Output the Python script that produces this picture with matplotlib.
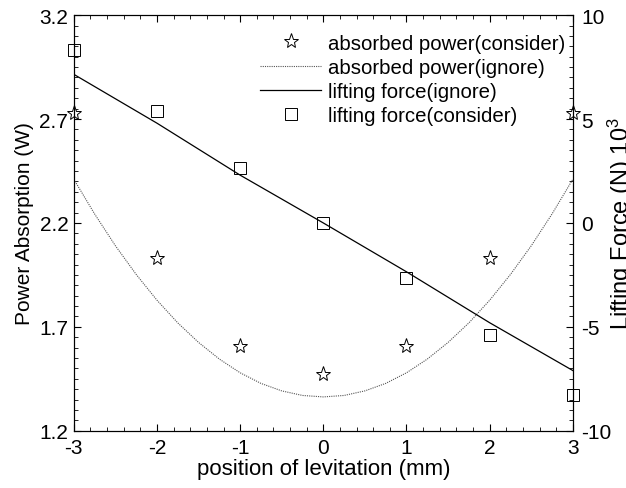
import numpy as np
import matplotlib
matplotlib.use("Agg")
import matplotlib.pyplot as plt
from matplotlib.ticker import MultipleLocator

plt.rcParams["font.family"] = ["Liberation Sans", "DejaVu Sans"]
plt.rcParams["mathtext.fontset"] = "custom"
plt.rcParams["mathtext.rm"] = "Liberation Sans"
plt.rcParams["axes.unicode_minus"] = False

# absorbed power, measured (stars, left axis)
pos = [-3, -2, -1, 0, 1, 2, 3]
power_consider = [2.73, 2.03, 1.61, 1.475, 1.61, 2.03, 2.73]

# absorbed power, ignore (dotted curve, left axis)
pos_fine = [-3, -2.75, -2.5, -2.25, -2, -1.75, -1.5, -1.25, -1, -0.75, -0.5, -0.25,
            0, 0.25, 0.5, 0.75, 1, 1.25, 1.5, 1.75, 2, 2.25, 2.5, 2.75, 3]
power_ignore = [2.41, 2.243, 2.09, 1.952, 1.828, 1.719, 1.625, 1.545, 1.479, 1.428,
                1.392, 1.37, 1.363, 1.37, 1.392, 1.428, 1.479, 1.545, 1.625, 1.719,
                1.828, 1.952, 2.09, 2.243, 2.41]

# lifting force (right axis, x10^3 N)
force_ignore = [7.15, 4.8, 2.3, 0.0, -2.35, -4.8, -7.1]
force_consider = [8.3, 5.4, 2.65, 0.0, -2.65, -5.4, -8.3]

fig = plt.figure(figsize=(6.26, 4.89), dpi=100)
ax = fig.add_axes([0.118, 0.117, 0.797, 0.850])
ax2 = ax.twinx()

h1, = ax.plot(pos, power_consider, linestyle="none", marker="*", ms=11,
              mfc="white", mec="black", mew=0.7, label="absorbed power(consider)")
h2, = ax.plot(pos_fine, power_ignore, color="#555555", lw=0.8,
              linestyle=(0, (1, 1)), label="absorbed power(ignore)")
h3, = ax2.plot(pos, force_ignore, color="black", lw=0.9,
               label="lifting force(ignore)")
h4, = ax2.plot(pos, force_consider, linestyle="none", marker="s", ms=9,
               mfc="none", mec="black", mew=0.7, label="lifting force(consider)")
for h in (h1, h4):
    h.set_clip_on(False)

ax.set_xlim(-3, 3)
ax.set_ylim(1.2, 3.2)
ax2.set_ylim(-10, 10)

ax.xaxis.set_major_locator(MultipleLocator(1))
ax.xaxis.set_minor_locator(MultipleLocator(0.2))
ax.yaxis.set_major_locator(MultipleLocator(0.5))
ax.yaxis.set_minor_locator(MultipleLocator(0.05))
ax2.yaxis.set_major_locator(MultipleLocator(5))
ax2.yaxis.set_minor_locator(MultipleLocator(0.5))

ax.set_yticks([1.2, 1.7, 2.2, 2.7, 3.2])
ax.set_yticklabels(["1.2", "1.7", "2.2", "2.7", "3.2"])

fs = 15
ax.tick_params(axis="x", which="both", direction="in", top=True, labelsize=fs, pad=5)
ax.tick_params(axis="y", which="both", direction="in", right=False, labelsize=fs, pad=4)
ax2.tick_params(axis="y", which="both", direction="in", labelsize=fs, pad=6)
for a in (ax, ax2):
    a.tick_params(which="major", length=5, width=0.8)
    a.tick_params(which="minor", length=3, width=0.6)

ax.set_xlabel("position of levitation (mm)", fontsize=16, labelpad=1)
ax.set_ylabel("Power Absorption (W)", fontsize=fs, labelpad=4)
ax2.set_ylabel("Lifting Force (N) $\\mathregular{10^3}$", fontsize=17,
               rotation=90, va="center")
ax2.yaxis.set_label_coords(1.096, 0.5)

ax2.legend(handles=[h1, h2, h3, h4], loc="upper right", frameon=False,
           fontsize=14.7, handlelength=3.0, handletextpad=0.35, labelspacing=0.25,
           borderaxespad=0.2, bbox_to_anchor=(1.01, 0.985))

fig.savefig("out.png", dpi=100)
